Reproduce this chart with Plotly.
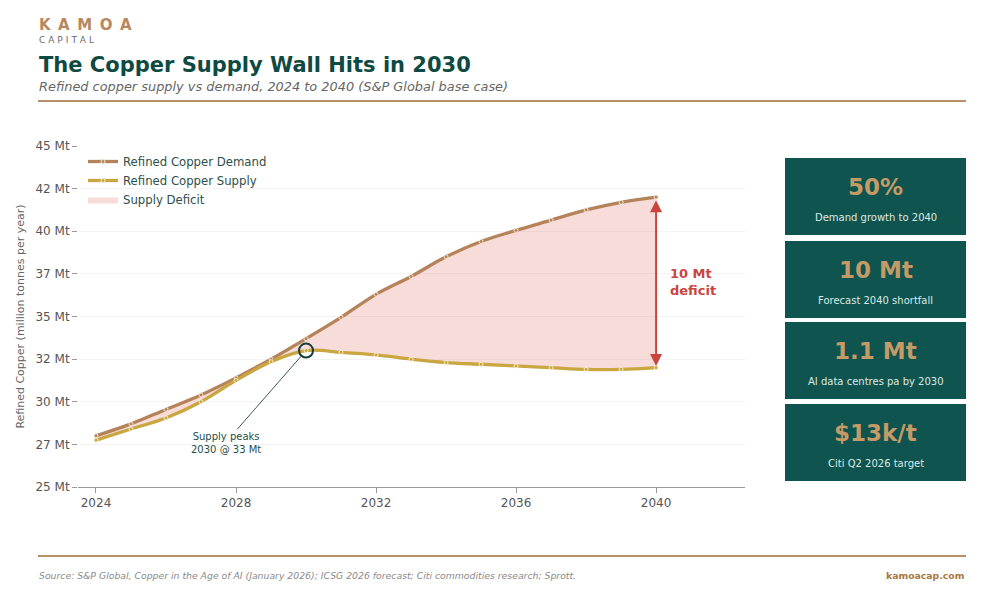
import plotly.graph_objects as go

# data
years = list(range(2024, 2041))
demand = [28.0, 28.7, 29.55, 30.4, 31.4, 32.5, 33.7, 34.95, 36.3, 37.35, 38.5,
          39.4, 40.05, 40.65, 41.25, 41.7, 42.0]
supply = [27.75, 28.4, 29.05, 30.0, 31.25, 32.35, 33.0, 32.9, 32.75, 32.5,
          32.3, 32.2, 32.1, 32.0, 31.9, 31.9, 32.0]

y_ticks = [25, 27.5, 30, 32.5, 35, 37.5, 40, 42.5, 45]
y_labels = ['25 Mt', '27 Mt', '30 Mt', '32 Mt', '35 Mt', '37 Mt', '40 Mt',
            '42 Mt', '45 Mt']
x_ticks = [2024, 2028, 2032, 2036, 2040]

peak_year, peak_value = 2030, 33.0
gap_year = 2040

card_values = ['50%', '10 Mt', '1.1 Mt', '$13k/t']
card_labels = ['Demand growth to 2040', 'Forecast 2040 shortfall',
               'AI data centres pa by 2030', 'Citi Q2 2026 target']

# colours
DEMAND = '#b5835a'
SUPPLY = '#c9a63f'
FILL = 'rgba(232, 140, 128, 0.30)'
GREEN = '#0f4a42'
CARD = '#0f544f'
GOLD = '#c49a66'
RED = '#c9463f'
GREY = '#555555'

# the page puts the figure 8px in from the corner, so size it to fit
OFF = 8
W, H = 984 - OFF, 600 - OFF
L, R, T, B = 78 - OFF, 239, 146 - OFF, 113
FONT = 'DejaVu Sans'


def px(x):
    # page pixel -> paper x
    return (x - OFF - L) / (W - L - R)


def py(y):
    # page pixel -> paper y
    return (H - B - (y - OFF)) / (H - T - B)


fig = go.Figure()

# fill between supply and demand
fig.add_trace(go.Scatter(x=years, y=supply, mode='lines',
                         line=dict(width=0, shape='spline'),
                         showlegend=False, hoverinfo='skip'))
fig.add_trace(go.Scatter(x=years, y=demand, mode='lines', fill='tonexty',
                         fillcolor=FILL, line=dict(width=0, shape='spline'),
                         name='Supply Deficit', legendrank=3))

fig.add_trace(go.Scatter(
    x=years, y=demand, mode='lines+markers', name='Refined Copper Demand',
    line=dict(color=DEMAND, width=3.3, shape='spline'),
    marker=dict(size=4, color=DEMAND, line=dict(color='#f3e6da', width=1)),
    legendrank=1))
fig.add_trace(go.Scatter(
    x=years, y=supply, mode='lines+markers', name='Refined Copper Supply',
    line=dict(color=SUPPLY, width=3.3, shape='spline'),
    marker=dict(size=4, color=SUPPLY, line=dict(color='#f6efcf', width=1)),
    legendrank=2))

# supply peak marker
fig.add_trace(go.Scatter(
    x=[peak_year], y=[peak_value], mode='markers', showlegend=False,
    marker=dict(size=14, color='rgba(0,0,0,0)',
                line=dict(color='#133f39', width=2)),
    hoverinfo='skip'))

fig.add_annotation(
    x=peak_year, y=peak_value, ax=2027.7, ay=27.6, axref='x', ayref='y',
    text='Supply peaks<br>2030 @ 33 Mt', showarrow=True, arrowhead=0,
    arrowwidth=1, arrowcolor='#3d5a57', standoff=7,
    font=dict(family=FONT, size=10, color='#1f4f49'))

# deficit arrow
gap_top = demand[years.index(gap_year)]
gap_bottom = supply[years.index(gap_year)]
fig.add_annotation(
    x=gap_year, y=gap_bottom + 0.1, ax=gap_year, ay=gap_top - 0.1,
    axref='x', ayref='y', text='', showarrow=True, arrowhead=2,
    arrowside='end+start', arrowsize=1.2, arrowwidth=2, arrowcolor=RED)
fig.add_annotation(
    x=gap_year + 0.35, y=(gap_top + gap_bottom) / 2, xanchor='left',
    yanchor='middle', text='<b>10 Mt<br>deficit</b>', showarrow=False,
    align='left', font=dict(family=FONT, size=13, color=RED))

# cards on the right
card_tops = [158, 241, 322, 404]
card_h = 77
shapes = []
for top, value, label in zip(card_tops, card_values, card_labels):
    shapes.append(dict(type='rect', xref='paper', yref='paper',
                       x0=px(785), x1=px(966), y0=py(top + card_h), y1=py(top),
                       fillcolor=CARD, line=dict(width=0), layer='above'))
    fig.add_annotation(xref='paper', yref='paper', x=px(875.5),
                       y=py(top + 29), xanchor='center', yanchor='middle',
                       text='<b>' + value + '</b>', showarrow=False,
                       font=dict(family=FONT, size=23, color=GOLD))
    fig.add_annotation(xref='paper', yref='paper', x=px(875.5),
                       y=py(top + 59), xanchor='center', yanchor='middle',
                       text=label, showarrow=False,
                       font=dict(family=FONT, size=10, color='#dbe9e5'))

# header and footer rules
shapes.append(dict(type='line', xref='paper', yref='paper', x0=px(38),
                   x1=px(966), y0=py(101), y1=py(101),
                   line=dict(color='#b8916a', width=2)))
shapes.append(dict(type='line', xref='paper', yref='paper', x0=px(38),
                   x1=px(966), y0=py(556), y1=py(556),
                   line=dict(color='#b8916a', width=2)))

header = [
    (25, '<b>K\u2002A\u2002M\u2002O\u2002A</b>', 15, '#b8875e', 'normal'),
    (40, 'C\u2004A\u2004P\u2004I\u2004T\u2004A\u2004L', 9, '#6b6b6b',
     'normal'),
    (65, '<b>The Copper Supply Wall Hits in 2030</b>', 21, GREEN, 'normal'),
    (87, 'Refined copper supply vs demand, 2024 to 2040 '
         '(S&P Global base case)', 12.9, '#666666', 'italic'),
    (575, 'Source: S&P Global, Copper in the Age of AI (January 2026); '
          'ICSG 2026 forecast; Citi commodities research; Sprott.',
     9.3, '#8a8a8a', 'italic'),
]
for y, text, size, color, style in header:
    fig.add_annotation(xref='paper', yref='paper', x=px(37), y=py(y),
                       xanchor='left', yanchor='middle', text=text,
                       showarrow=False,
                       font=dict(family=FONT, size=size, color=color,
                                 style=style))
fig.add_annotation(xref='paper', yref='paper', x=px(966), y=py(575),
                   xanchor='right', yanchor='middle',
                   text='<b>kamoacap.com</b>', showarrow=False,
                   font=dict(family=FONT, size=9.3, color='#a8773f'))

fig.update_layout(
    width=W, height=H,
    margin=dict(l=L, r=R, t=T, b=B),
    paper_bgcolor='white', plot_bgcolor='white',
    font=dict(family=FONT, color=GREY),
    shapes=shapes,
    showlegend=True,
    legend=dict(x=px(83), y=py(147), xanchor='left', yanchor='top',
                traceorder='normal', bgcolor='rgba(0,0,0,0)',
                tracegroupgap=0,
                font=dict(family=FONT, size=11.7, color='#2e4f4b')),
    xaxis=dict(range=[2023.486, 2042.54], tickvals=x_ticks,
               showgrid=False, zeroline=False, showline=True,
               linecolor='#9a9a9a', linewidth=1, ticks='outside',
               ticklen=5, tickcolor='#9a9a9a',
               tickfont=dict(size=12, color=GREY)),
    yaxis=dict(range=[25, 45], tickvals=y_ticks, ticktext=y_labels,
               showgrid=True, gridcolor='#f3f3f3', zeroline=False,
               showline=False, ticks='outside', ticklen=5,
               tickcolor='#9a9a9a', tickfont=dict(size=12, color=GREY),
               title=dict(text='Refined Copper (million tonnes per year)',
                          font=dict(size=11, color='#666666'), standoff=8)),
)

fig.write_html("out.html")
